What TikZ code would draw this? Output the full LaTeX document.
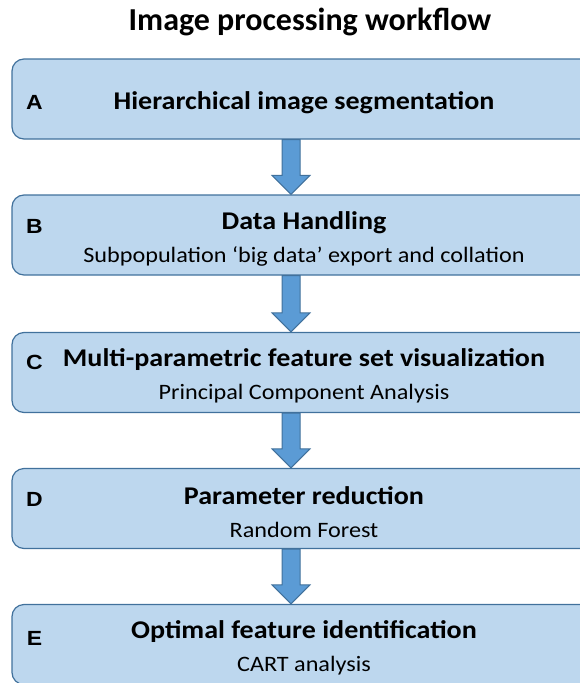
\documentclass[tikz,border=0pt]{standalone}
\usepackage{fontspec}
\setmainfont{Carlito}
\newfontfamily\boxfont[FakeStretch=1.1]{Carlito}
\newfontfamily\labelfont[FakeStretch=1.12]{Liberation Sans}
\usetikzlibrary{calc}
\definecolor{boxfill}{HTML}{BDD7EE}
\definecolor{boxline}{HTML}{41719C}
\definecolor{arrfill}{HTML}{5B9BD5}
\tikzset{
  stagebox/.style={draw=boxline, line width=1.2pt, fill=boxfill, rounded corners=12pt,
    minimum width=584pt, minimum height=80pt, inner sep=0pt},
  boxtext/.style={inner sep=0pt, align=center, font=\boxfont\fontsize{22}{33}\selectfont},
  letterlbl/.style={font=\labelfont\bfseries\fontsize{20.5}{22}\selectfont, inner sep=0pt},
  blockarrow/.style={draw=boxline, line width=1pt, fill=arrfill, line join=miter},
  titletext/.style={font=\bfseries\fontsize{32}{36}\selectfont, inner sep=0pt}
}
\newcommand{\hd}[1]{{\bfseries\fontsize{25.5}{30}\selectfont #1}}
\newcommand{\blockarr}[2]{%
  \path let \p1=(#1.south), \p2=(#2.north) in
    coordinate (t) at (291pt,\y1) coordinate (b) at (291pt,\y2);
  \draw[blockarrow] let \p1=(t), \p2=(b) in
    (\x1-9pt,\y1) -- (\x1+9pt,\y1) -- (\x1+9pt,\y2+19pt) -- (\x1+19pt,\y2+19pt)
    -- (\x2,\y2) -- (\x1-19pt,\y2+19pt) -- (\x1-9pt,\y2+19pt) -- cycle;
}
\begin{document}
\begin{tikzpicture}[x=1pt,y=-1pt]
\useasboundingbox (0,0) rectangle (580,683);
\clip (0,0) rectangle (580,683);
\node[titletext, anchor=base] (title) at (310,30) {Image processing workflow};
\node[stagebox] (A) at (304,99) {};
\node[stagebox] (B) at (304,235) {};
\node[stagebox] (C) at (304,372.5) {};
\node[stagebox] (D) at (304,508.5) {};
\node[stagebox] (E) at (304,644.5) {};
\node[boxtext] (tA) at ([yshift=-3.5pt]A.center) {\hd{Hierarchical image segmentation}};
\node[boxtext] (tB) at ([yshift=-3.5pt]B.center) {\hd{Data Handling}\\Subpopulation ‘big data’ export and collation};
\node[boxtext] (tC) at ([yshift=-3.5pt]C.center) {\hd{Multi-parametric feature set visualization}\\Principal Component Analysis};
\node[boxtext] (tD) at ([yshift=-3.5pt]D.center) {\hd{Parameter reduction}\\Random Forest};
\node[boxtext] (tE) at ([yshift=-3.5pt]E.center) {\hd{Optimal feature identification}\\CART analysis};
\node[letterlbl] (lA) at (34.5,102) {A};
\node[letterlbl] (lB) at (34.5,226) {B};
\node[letterlbl] (lC) at (34.5,362) {C};
\node[letterlbl] (lD) at (34.5,499) {D};
\node[letterlbl] (lE) at (34.5,638) {E};
\blockarr{A}{B}
\blockarr{B}{C}
\blockarr{C}{D}
\blockarr{D}{E}
\end{tikzpicture}
\end{document}
